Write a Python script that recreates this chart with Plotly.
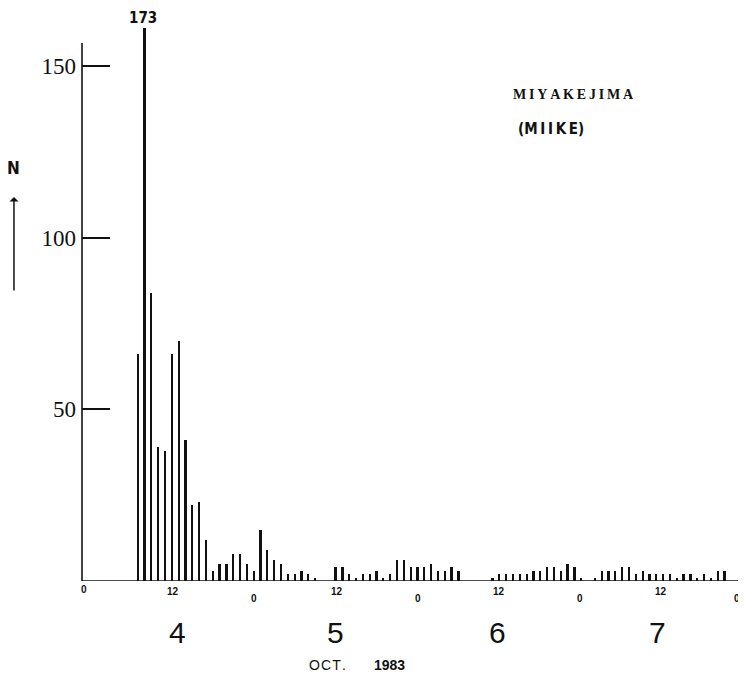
import plotly.graph_objects as go

# Hourly number of earthquakes, Oct 4 00h .. Oct 7 23h 1983 (hour index 0..95)
hours = list(range(96))
counts_day4 = [0, 0, 0, 0, 0, 0, 0, 66, 173, 84, 39, 38, 66, 70, 41, 22, 23, 12, 3, 5, 5, 8, 8, 5]
counts_day5 = [3, 15, 9, 6, 5, 2, 2, 3, 2, 1, 0, 0, 4, 4, 2, 1, 2, 2, 3, 1, 2, 6, 6, 4]
counts_day6 = [4, 4, 5, 3, 3, 4, 3, 0, 0, 0, 0, 1, 2, 2, 2, 2, 2, 3, 3, 4, 4, 3, 5, 4]
counts_day7 = [1, 0, 1, 3, 3, 3, 4, 4, 2, 3, 2, 2, 2, 2, 1, 2, 2, 1, 2, 1, 3, 3, 0, 0]
counts = counts_day4 + counts_day5 + counts_day6 + counts_day7

y_ticks = [50, 100, 150]
x_tick_hours = [0, 12, 24, 36, 48, 60, 72, 84, 96]
x_tick_text = ["0", "12", "0", "12", "0", "12", "0", "12", "0"]
day_labels = ["4", "5", "6", "7"]
day_centers = [12, 36, 60, 84]
peak_label = "173"

# styling / placement (pixel nudges for the hand-drawn original)
X_START = -1.16
tick_xshift = [0, 1, 0, 1, 1, 0, -1, -2, -3]
day_xshift = [6, 0, -2, -6]
INK = "#111111"
Y_TOP = 161.1
PX_PER_UNIT = 553 / Y_TOP

fig = go.Figure()
fig.add_trace(go.Bar(x=hours, y=counts, width=0.33,
                     marker=dict(color=INK, line=dict(width=0)),
                     hoverinfo="x+y"))

fig.update_layout(
    width=738, height=665,
    margin=dict(l=74, r=1, t=20, b=92),
    paper_bgcolor="white", plot_bgcolor="white",
    showlegend=False,
    bargap=0,
    xaxis=dict(range=[X_START, 96], showgrid=False, zeroline=False, showline=False,
               showticklabels=False, ticks=""),
    yaxis=dict(range=[0, Y_TOP], showgrid=False, zeroline=False, showline=False,
               tickvals=y_ticks, ticktext=[str(v) for v in y_ticks],
               ticks="inside", ticklen=28, tickwidth=1.5, tickcolor=INK,
               ticklabelstandoff=5,
               tickfont=dict(family="Liberation Serif, DejaVu Serif, serif", size=23, color=INK)),
)

# axes lines
fig.add_shape(type="line", xref="paper", yref="y", x0=0, x1=0, y0=0, y1=156.7,
              line=dict(color=INK, width=1.6))
fig.add_shape(type="line", xref="paper", yref="y", x0=0, x1=1, y0=0, y1=0,
              line=dict(color=INK, width=1.6))

# x tick labels and day tick marks
for h, t, xs in zip(x_tick_hours, x_tick_text, tick_xshift):
    if t == "12":
        shift = -10
    elif h == 0:
        shift = -8
    else:
        shift = -17
        if h < 96:
            fig.add_shape(type="line", xref="x", yref="y", x0=h, x1=h, y0=0, y1=-6 / PX_PER_UNIT,
                          line=dict(color=INK, width=1.6))
    xpos = X_START if h == 0 else h
    fig.add_annotation(x=xpos, y=0, xref="x", yref="y", text="<b>%s</b>" % t, showarrow=False,
                       yshift=shift, xshift=xs + (2 if h == 0 else 0),
                       xanchor="right" if h == 96 else "center", yanchor="middle",
                       font=dict(family="Liberation Sans, Arial, sans-serif", size=10, color=INK))

for c, d, xs in zip(day_centers, day_labels, day_xshift):
    fig.add_annotation(x=c, y=0, xref="x", yref="y", text=d, showarrow=False, yshift=-51, xshift=xs,
                       yanchor="middle",
                       font=dict(family="Liberation Sans, Arial, sans-serif", size=30, color=INK))

fig.add_annotation(x=39.2, y=0, xref="x", yref="y",
                   text="O\u200aC\u200aT\u200a.\u2003\u2003<b>1983</b>", showarrow=False, yshift=-84,
                   yanchor="middle",
                   font=dict(family="Liberation Sans, Arial, sans-serif", size=14, color=INK))

# peak label
fig.add_annotation(x=7.8, y=1, xref="x", yref="paper", text="<b>%s</b>" % peak_label, showarrow=False,
                   yshift=10, yanchor="middle",
                   font=dict(family="DejaVu Sans Condensed, Roboto, sans-serif", size=15, color=INK))

# station label
fig.add_annotation(x=70.8, y=141.6, xref="x", yref="y",
                   text="<b>M\u2009I\u2009Y\u2009A\u2009K\u2009E\u2009J\u2009I\u2009M\u2009A</b>", showarrow=False,
                   yanchor="middle",
                   font=dict(family="Liberation Serif, DejaVu Serif, serif", size=14, color=INK))
fig.add_annotation(x=67.6, y=131.7, xref="x", yref="y",
                   text="<b>(M\u2009I\u2009I\u2009K\u2009E)</b>", showarrow=False,
                   yanchor="middle",
                   font=dict(family="DejaVu Sans Condensed, Roboto, sans-serif", size=15, color=INK))

# N with upward arrow
fig.add_annotation(x=-0.104, y=(581 - 168) / 553, xref="paper", yref="paper", text="<b>N</b>",
                   showarrow=False, xanchor="center", yanchor="middle",
                   font=dict(family="DejaVu Sans Condensed, Roboto, sans-serif", size=17, color=INK))
fig.add_annotation(x=-0.1026, y=(581 - 197) / 553, xref="paper", yref="paper", text="",
                   showarrow=True, ax=0, ay=95, arrowhead=1, arrowsize=1, arrowwidth=1.5,
                   arrowcolor=INK)

fig.write_html("out.html")
